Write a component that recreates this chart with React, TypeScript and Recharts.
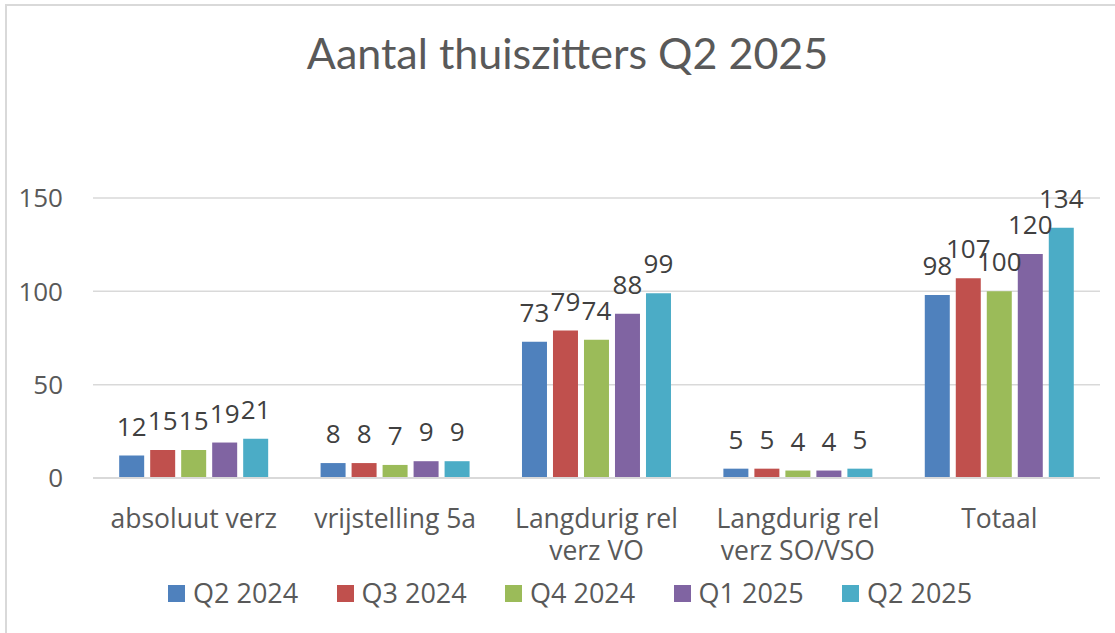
import { Bar, BarChart, CartesianGrid, LabelList, Legend, XAxis, YAxis } from "recharts";

const categories = ["absoluut verz", "vrijstelling 5a", "Langdurig rel verz VO", "Langdurig rel verz SO/VSO", "Totaal"];
const seriesNames = ["Q2 2024", "Q3 2024", "Q4 2024", "Q1 2025", "Q2 2025"];
const q2_2024 = [12, 8, 73, 5, 98];
const q3_2024 = [15, 8, 79, 5, 107];
const q4_2024 = [15, 7, 74, 4, 100];
const q1_2025 = [19, 9, 88, 4, 120];
const q2_2025 = [21, 9, 99, 5, 134];
const yTicks = [0, 50, 100, 150];

const colors = ["#4F81BD", "#C0504D", "#9BBB59", "#8064A2", "#4BACC6"];
const font = "'Open Sans', sans-serif";

const seriesValues = [q2_2024, q3_2024, q4_2024, q1_2025, q2_2025];
const data = categories.map((name, i) => {
  const row: Record<string, string | number> = { name };
  seriesNames.forEach((s, k) => (row[s] = seriesValues[k][i]));
  return row;
});

// excel wraps the long category names; do a simple greedy wrap
function wrap(label: string, max = 15) {
  const lines: string[] = [];
  let cur = "";
  for (const w of label.split(" ")) {
    const next = cur ? cur + " " + w : w;
    if (next.length > max && cur) {
      lines.push(cur);
      cur = w;
    } else cur = next;
  }
  if (cur) lines.push(cur);
  return lines;
}

function CategoryTick({ x, y, payload }: any) {
  const lines = wrap(String(payload.value));
  return (
    <text x={x} y={y} textAnchor="middle" fill="#595959" fontSize={26.5} fontFamily={font}>
      {lines.map((l, i) => (
        <tspan key={i} x={x} dy={i === 0 ? 50 : 32}>
          {l}
        </tspan>
      ))}
    </text>
  );
}

function LegendBox() {
  return (
    <div style={{ display: "flex", paddingLeft: 168, height: 40, alignItems: "center" }}>
      {seriesNames.map((s, i) => (
        <div key={s} style={{ width: 168.5, display: "flex", alignItems: "center" }}>
          <span style={{ width: 17, height: 17, background: colors[i], display: "inline-block" }} />
          <span style={{ marginLeft: 8, fontFamily: font, fontSize: 27, color: "#595959", lineHeight: "40px" }}>{s}</span>
        </div>
      ))}
    </div>
  );
}

export default function App() {
  return (
    <div style={{ position: "absolute", left: 0, top: 0, width: 1115, height: 633, background: "#fff", overflow: "hidden" }}>
      <div
        style={{
          position: "absolute",
          left: 5,
          top: 4,
          width: 1130,
          height: 650,
          borderTop: "2px solid #d9d9d9",
          borderLeft: "2px solid #d9d9d9",
        }}
      />
      <div
        style={{
          position: "absolute",
          left: 10,
          top: 31,
          width: 1115,
          textAlign: "center",
          fontFamily: "Lato, sans-serif",
          fontSize: 43,
          lineHeight: "43px",
          color: "#595959",
        }}
      >
        Aantal thuiszitters Q2 2025
      </div>
      <BarChart
        width={1115}
        height={633}
        data={data}
        margin={{ top: 198, right: 15, left: 0, bottom: 20 }}
        barCategoryGap="13%"
        barGap={6}
      >
        <CartesianGrid vertical={false} stroke="#d9d9d9" strokeWidth={1.5} />
        <XAxis
          dataKey="name"
          height={95}
          interval={0}
          tick={<CategoryTick />}
          tickLine={false}
          tickSize={0}
          tickMargin={0}
          axisLine={{ stroke: "#d9d9d9", strokeWidth: 2 }}
        />
        <YAxis
          width={93}
          domain={[0, 150]}
          ticks={yTicks}
          axisLine={false}
          tickLine={false}
          tickSize={0}
          tickMargin={30}
          tick={{ fill: "#595959", fontSize: 26, fontFamily: font }}
        />
        <Legend verticalAlign="bottom" height={40} content={<LegendBox />} />
        {seriesNames.map((s, i) => (
          <Bar key={s} dataKey={s} fill={colors[i]} isAnimationActive={false}>
            <LabelList dataKey={s} position="top" offset={20} fill="#404040" fontSize={26} fontFamily={font} />
          </Bar>
        ))}
      </BarChart>
    </div>
  );
}
